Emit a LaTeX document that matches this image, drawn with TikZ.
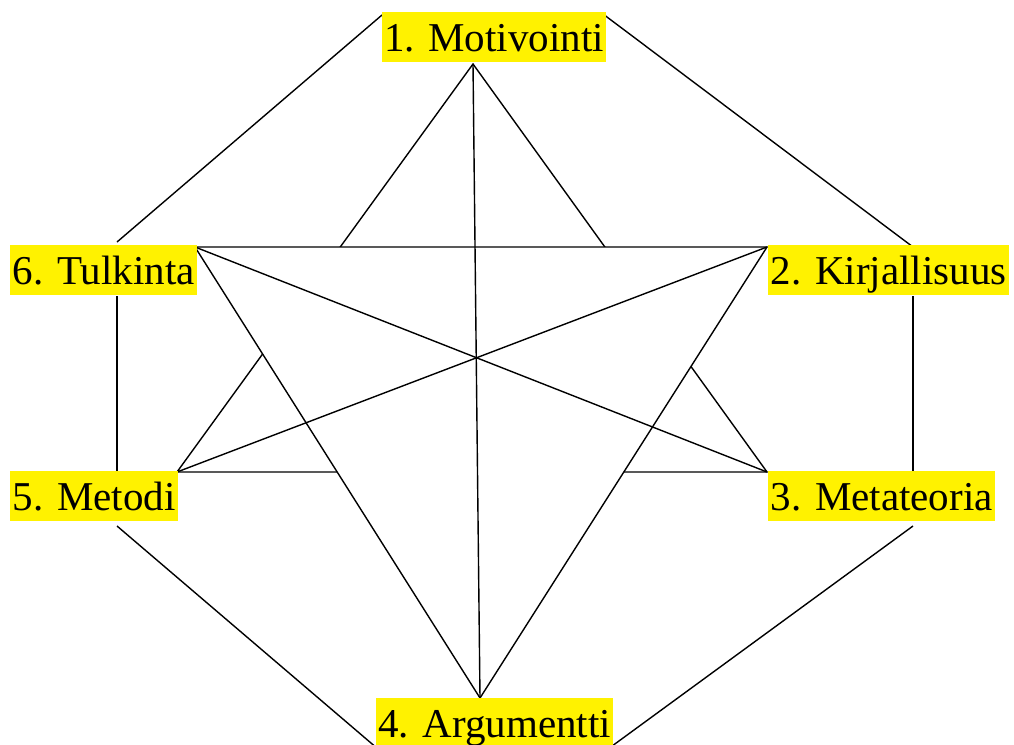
\documentclass[tikz,border=0pt]{standalone}
\usepackage{fontspec}
\setmainfont{Liberation Serif}
\newfontfamily\tmsfont{Liberation Serif}
\begin{document}
\begin{tikzpicture}[x=1pt,y=-1pt,
  edge/.style={draw=black,line width=1.4pt},
  lbl/.style={fill=yellow,inner xsep=2.5pt,inner ysep=1pt,text height=38pt,text depth=10pt,
    font=\tmsfont\fontsize{41}{50}\selectfont}]
\useasboundingbox (0,0) rectangle (1014,744);
\clip (0,0) rectangle (1014,744);
% inner star vertices
\coordinate (A) at (473,64);
\coordinate (B) at (767,472);
\coordinate (C) at (177,472);
\coordinate (D) at (195,247);
\coordinate (E) at (767,247);
\coordinate (F) at (480,698);
% outer hexagon segment ends
\coordinate (h1) at (382,15);
\coordinate (h2) at (117,242);
\coordinate (h3) at (117,296);
\coordinate (h4) at (117,473);
\coordinate (h5) at (117,526);
\coordinate (h6) at (378,749);
\coordinate (h7) at (608,749);
\coordinate (h8) at (913,526);
\coordinate (h9) at (913,473);
\coordinate (h10) at (913,296);
\coordinate (h11) at (913,247);
\coordinate (h12) at (603,14);
% triangle 1-3-5 behind
\draw[edge,line join=miter] (A) -- (B) -- (C) -- cycle;
% triangle 6-2-4 in front, white fill
\draw[edge,fill=white,line join=miter] (D) -- (E) -- (F) -- cycle;
% diagonals
\draw[edge] (D) -- (B);
\draw[edge] (E) -- (C);
\draw[edge] (A) -- (F);
% outer hexagon
\draw[edge] (h1) -- (h2);
\draw[edge] (h3) -- (h4);
\draw[edge] (h5) -- (h6);
\draw[edge] (h7) -- (h8);
\draw[edge] (h9) -- (h10);
\draw[edge] (h11) -- (h12);
% labels
\node[lbl] (n1) at (494,37) {1. Motivointi};
\node[lbl,anchor=west] (n2) at (768,270) {2. Kirjallisuus};
\node[lbl,anchor=west] (n3) at (768,496) {3. Metateoria};
\node[lbl] (n4) at (494.5,723) {4. Argumentti};
\node[lbl,anchor=west] (n5) at (10,496) {5. Metodi};
\node[lbl,anchor=west] (n6) at (10,270) {6. Tulkinta};
\end{tikzpicture}
\end{document}
